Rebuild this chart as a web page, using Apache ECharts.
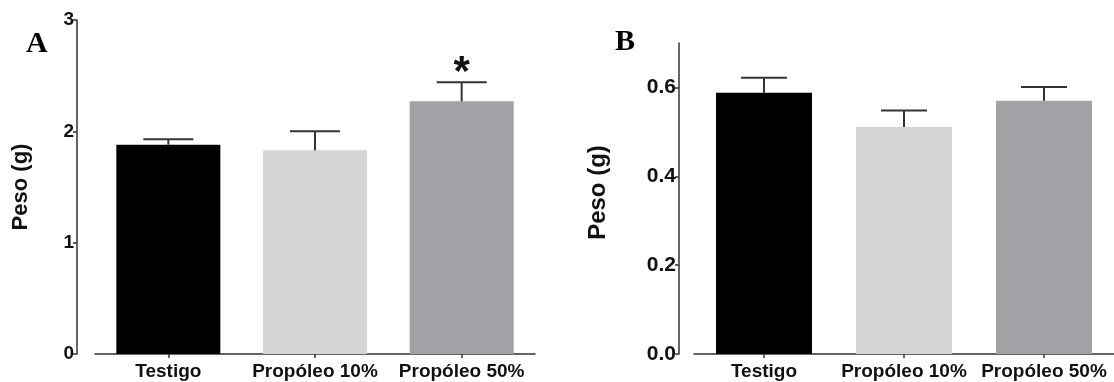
<!DOCTYPE html>
<html>
<head>
<meta charset="utf-8">
<script src="https://cdn.jsdelivr.net/npm/echarts@6/dist/echarts.min.js"></script>
<style>
  html, body { margin: 0; padding: 0; background: #fff; }
  #chart { width: 1114px; height: 382px; }
</style>
</head>
<body>
<div id="chart"></div>
<script>
// datos
const categories = ["Testigo", "Propóleo 10%", "Propóleo 50%"];
const barColors = ["#000000", "#d4d4d4", "#a2a1a6"];

const pesoA = [1.88, 1.83, 2.27];
const errA = [0.05, 0.17, 0.17];
const sigA = ["", "", "*"];

const pesoB = [0.588, 0.511, 0.570];
const errB = [0.034, 0.037, 0.031];

const ticksA = [0, 1, 2, 3];
const ticksB = [0, 0.2, 0.4, 0.6];

const font = "Liberation Sans, Arial, sans-serif";
const axisColor = "#333";

const chart = echarts.init(document.getElementById("chart"));

function barData(values) {
  return values.map((v, i) => ({ value: v, itemStyle: { color: barColors[i] } }));
}

// barra de error superior + marca de significancia
function errorSeries(idx, values, errs, sig, capWidth) {
  return {
    type: "custom",
    xAxisIndex: idx,
    yAxisIndex: idx,
    silent: true,
    z: 5,
    data: values.map((v, i) => [i, v, v + errs[i]]),
    renderItem: (params, api) => {
      const base = api.coord([api.value(0), api.value(1)]);
      const top = api.coord([api.value(0), api.value(2)]);
      const half = capWidth / 2;
      const style = { stroke: "#333", lineWidth: 2 };
      const children = [
        { type: "line", shape: { x1: top[0], y1: base[1], x2: top[0], y2: top[1] }, style },
        { type: "line", shape: { x1: top[0] - half, y1: top[1], x2: top[0] + half, y2: top[1] }, style },
      ];
      const mark = sig ? sig[params.dataIndex] : "";
      if (mark) {
        children.push({
          type: "text",
          style: {
            text: mark, x: top[0], y: top[1] + 12,
            align: "center", verticalAlign: "bottom",
            font: "bold 42px " + font, fill: "#111",
          },
        });
      }
      return { type: "group", children };
    },
  };
}

function yAxisCfg(idx, max, interval, ticks, nameGap, decimals, labelSize, nameSize, namePad) {
  return {
    type: "value",
    gridIndex: idx,
    min: 0,
    max: max,
    interval: interval,
    offset: idx === 0 ? 18 : 15,
    name: "Peso (g)",
    nameLocation: "middle",
    nameGap: nameGap,
    nameTextStyle: { fontFamily: font, fontWeight: "bold", fontSize: nameSize, color: "#111", padding: namePad },
    axisLine: { show: true, lineStyle: { color: axisColor, width: 1.5 } },
    axisTick: { show: true, length: 4, customValues: ticks, lineStyle: { color: axisColor, width: 1.5 } },
    axisLabel: {
      customValues: ticks,
      margin: 3,
      fontFamily: font, fontWeight: "bold", fontSize: labelSize, color: "#111",
      formatter: v => v.toFixed(decimals),
    },
    splitLine: { show: false },
  };
}

function xAxisCfg(idx) {
  return {
    type: "category",
    gridIndex: idx,
    data: categories,
    axisLine: { lineStyle: { color: axisColor, width: 1.5 } },
    axisTick: { show: true, alignWithLabel: true, length: 4, lineStyle: { color: axisColor, width: 1.5 } },
    axisLabel: { margin: 8, interval: 0, fontFamily: font, fontWeight: "bold", fontSize: 19, color: "#111" },
  };
}

const serif = "Liberation Serif, Times New Roman, serif";

const option = {
  animation: false,
  backgroundColor: "#fff",
  title: [
    { text: "A", left: 21, top: 24, textStyle: { fontFamily: serif, fontWeight: "bold", fontSize: 30, color: "#000" } },
    { text: "B", left: 610, top: 22, textStyle: { fontFamily: serif, fontWeight: "bold", fontSize: 30, color: "#000" } },
  ],
  grid: [
    { left: 95, width: 440, top: 20, bottom: 28 },
    { left: 694, width: 420, top: 43, bottom: 28 },
  ],
  xAxis: [xAxisCfg(0), xAxisCfg(1)],
  yAxis: [
    yAxisCfg(0, 3, 1, ticksA, 45, 0, 19, 22, [0, 0, 0, 0]),
    yAxisCfg(1, 0.7, 0.2, ticksB, 69, 1, 21, 24, [0, 0, 0, 12]),
  ],
  series: [
    { type: "bar", xAxisIndex: 0, yAxisIndex: 0, barWidth: 104, data: barData(pesoA) },
    errorSeries(0, pesoA, errA, sigA, 50),
    { type: "bar", xAxisIndex: 1, yAxisIndex: 1, barWidth: 96, data: barData(pesoB) },
    errorSeries(1, pesoB, errB, null, 46),
  ],
};

chart.setOption(option);
</script>
</body>
</html>
